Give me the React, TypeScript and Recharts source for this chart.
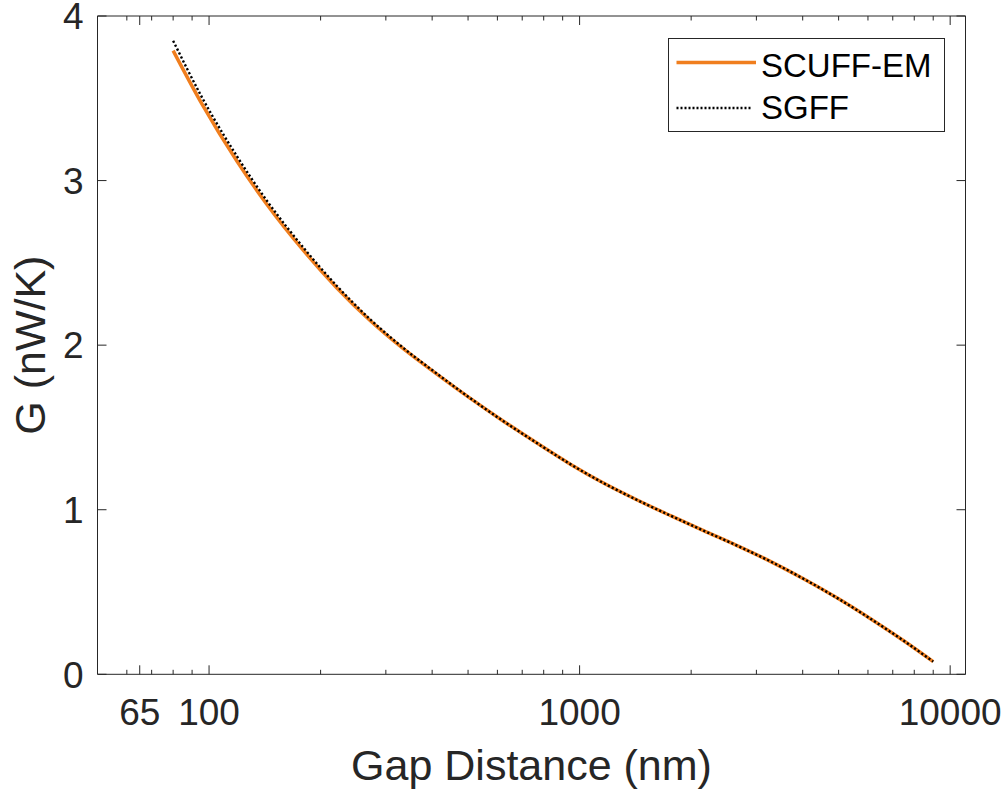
import React from 'react';
import { LineChart, Line, XAxis, YAxis, Legend } from 'recharts';

const gapNm = [80, 96, 119, 143, 180, 221, 272, 335, 412, 506, 623, 767, 944, 1160, 1430, 1760, 2160, 2660, 3280, 4030, 4960, 6110, 7510, 9000];
const scuffEm = [3.79, 3.46, 3.117, 2.858, 2.574, 2.349, 2.15, 1.977, 1.824, 1.678, 1.538, 1.405, 1.277, 1.162, 1.059, 0.964, 0.873, 0.782, 0.685, 0.579, 0.463, 0.336, 0.202, 0.077];
const sgff = [3.85, 3.5, 3.147, 2.88, 2.591, 2.361, 2.158, 1.982, 1.827, 1.679, 1.538, 1.405, 1.277, 1.162, 1.059, 0.964, 0.873, 0.782, 0.685, 0.579, 0.463, 0.336, 0.202, 0.077];

const xLabelTicks = [65, 100, 1000, 10000];
const xAllTicks = [60, 65, 70, 80, 90, 100, 200, 300, 400, 500, 600, 700, 800, 900, 1000, 2000, 3000, 4000, 5000, 6000, 7000, 8000, 9000, 10000];
const yTicks = [0, 1, 2, 3, 4];
const xDomain = [50, 11000];
const yDomain = [0, 4];
const seriesNames = ['SCUFF-EM', 'SGFF'];

const data = gapNm.map((g, i) => ({ gap: g, scuff: scuffEm[i], sgff: sgff[i] }));

const AX = '#262626';
const FONT = '"Liberation Sans", Arial, Helvetica, sans-serif';
const ORANGE = '#F07E1E';

const BottomTick = (props: any) => {
  const { x, y, payload } = props;
  const major = xLabelTicks.includes(payload.value);
  const len = major ? 9 : 4.5;
  return (
    <g>
      <line x1={x} x2={x} y1={y} y2={y - len} stroke={AX} strokeWidth={1} />
      {major && (
        <text x={x} y={y + 50.7} textAnchor="middle" fontSize={37} fontFamily={FONT} fill={AX}>
          {payload.value}
        </text>
      )}
    </g>
  );
};

const TopTick = (props: any) => {
  const { x, y, payload } = props;
  const major = xLabelTicks.includes(payload.value);
  const len = major ? 9 : 4.5;
  return <line x1={x} x2={x} y1={y} y2={y + len} stroke={AX} strokeWidth={1} />;
};

const LeftTick = (props: any) => {
  const { x, y, payload } = props;
  return (
    <g>
      <line x1={x} x2={x + 9} y1={y} y2={y} stroke={AX} strokeWidth={1} />
      <text x={x - 14} y={y + 13.2} textAnchor="end" fontSize={37} fontFamily={FONT} fill={AX}>
        {payload.value}
      </text>
    </g>
  );
};

const RightTick = (props: any) => {
  const { x, y } = props;
  return <line x1={x} x2={x - 9} y1={y} y2={y} stroke={AX} strokeWidth={1} />;
};

const XLabel = (props: any) => {
  const vb = props.viewBox || {};
  return (
    <text x={vb.x + vb.width / 2} y={vb.y + 105.7} textAnchor="middle" fontSize={43} fontFamily={FONT} fill={AX}>
      Gap Distance (nm)
    </text>
  );
};

const YLabel = (props: any) => {
  const vb = props.viewBox || {};
  const cx = vb.x + 45;
  const cy = vb.y + vb.height / 2;
  return (
    <text x={cx} y={cy} transform={`rotate(-90 ${cx} ${cy})`} textAnchor="middle" fontSize={43} fontFamily={FONT} fill={AX}>
      G (nW/K)
    </text>
  );
};

const legendStyles: Record<string, { dash?: string; width: number; color: string }> = {
  'SCUFF-EM': { width: 3.5, color: ORANGE },
  SGFF: { width: 2.4, color: '#000', dash: '2 2' },
};

const LegendContent = (props: any) => {
  const payload = (props.payload || []).filter((p: any) => seriesNames.includes(p.value));
  return (
    <svg width={277} height={94} style={{ display: 'block' }}>
      <rect x={0.5} y={0.5} width={276} height={93} fill="#fff" stroke={AX} strokeWidth={1} />
      {payload.map((p: any, i: number) => {
        const st = legendStyles[p.value];
        const ly = i === 0 ? 24.5 : 70;
        const ty = i === 0 ? 38.5 : 81;
        return (
          <g key={p.value}>
            <line x1={8.5} x2={i === 0 ? 88 : 83.5} y1={ly} y2={ly} stroke={st.color} strokeWidth={st.width} strokeDasharray={st.dash} />
            <text x={93} y={ty} fontSize={33} fontFamily={FONT} fill="#000">
              {p.value}
            </text>
          </g>
        );
      })}
    </svg>
  );
};

export default function App() {
  return (
    <div style={{ position: 'absolute', left: 0, top: 0, width: 1005, height: 794, background: '#fff' }}>
      <LineChart width={1005} height={794} data={data} margin={{ top: 15, right: 38.5, left: 0, bottom: 0 }}>
        <XAxis
          dataKey="gap"
          type="number"
          scale="log"
          domain={xDomain}
          allowDataOverflow
          ticks={xAllTicks}
          interval={0}
          height={119.7}
          tickSize={0}
          tickMargin={0}
          tickLine={false}
          axisLine={{ stroke: AX, strokeWidth: 1 }}
          tick={<BottomTick />}
          label={{ content: <XLabel /> }}
        />
        <XAxis
          xAxisId="top"
          dataKey="gap"
          orientation="top"
          type="number"
          scale="log"
          domain={xDomain}
          allowDataOverflow
          ticks={xAllTicks}
          interval={0}
          height={1}
          tickSize={0}
          tickMargin={0}
          tickLine={false}
          axisLine={{ stroke: AX, strokeWidth: 1 }}
          tick={<TopTick />}
        />
        <YAxis
          type="number"
          domain={yDomain}
          ticks={yTicks}
          interval={0}
          width={97.5}
          tickSize={0}
          tickMargin={0}
          tickLine={false}
          axisLine={{ stroke: AX, strokeWidth: 1 }}
          tick={<LeftTick />}
          label={{ content: <YLabel /> }}
        />
        <YAxis
          yAxisId="right"
          orientation="right"
          type="number"
          domain={yDomain}
          allowDataOverflow
          ticks={yTicks}
          interval={0}
          width={1}
          tickSize={0}
          tickMargin={0}
          tickLine={false}
          axisLine={{ stroke: AX, strokeWidth: 1 }}
          tick={<RightTick />}
        />
        <Legend
          layout="horizontal"
          verticalAlign="middle"
          align="center"
          wrapperStyle={{ left: 668, top: 38, width: 277, height: 94 }}
          content={<LegendContent />}
        />
        <Line
          dataKey="scuff"
          name="SCUFF-EM"
          type="monotone"
          stroke={ORANGE}
          strokeWidth={3.5}
          dot={false}
          activeDot={false}
          isAnimationActive={false}
        />
        <Line
          dataKey="sgff"
          name="SGFF"
          type="monotone"
          stroke="#000"
          strokeWidth={2.4}
          strokeDasharray="2.2 2.2"
          dot={false}
          activeDot={false}
          isAnimationActive={false}
        />
        <Line
          xAxisId="top"
          yAxisId="right"
          dataKey="scuff"
          name="frame"
          legendType="none"
          stroke="none"
          dot={false}
          activeDot={false}
          isAnimationActive={false}
        />
      </LineChart>
    </div>
  );
}
